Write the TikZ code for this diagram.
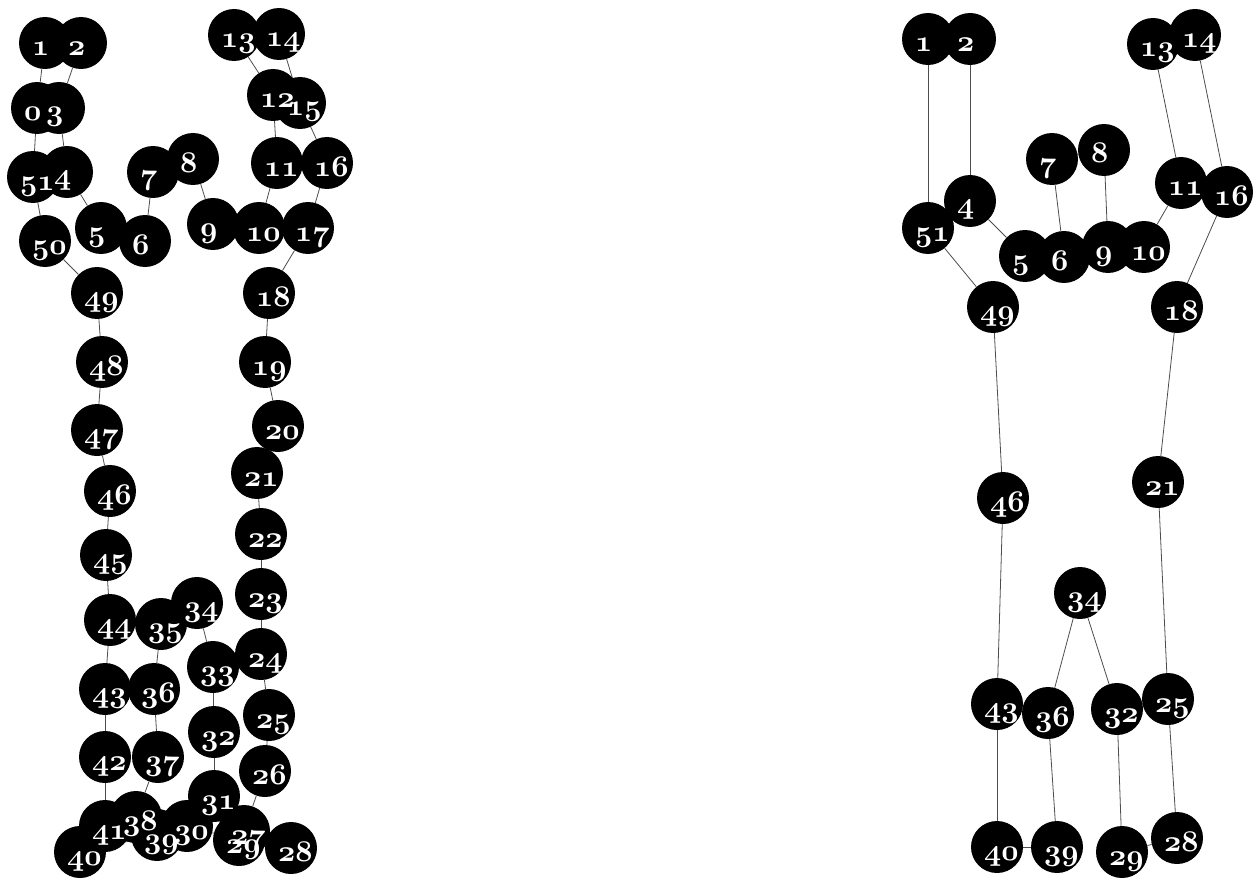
\RequirePackage{fix-cm}
\documentclass[tikz,border=0pt]{standalone}
\usepackage{tikz}
\definecolor{edgegray}{HTML}{4D4D4D}
\pgfdeclarelayer{edges}
\pgfdeclarelayer{labels}
\pgfsetlayers{edges,main,labels}
\newcommand{\vlabel}[1]{\makebox[26pt][l]{#1}}
\tikzset{vtx/.style={circle,fill=black,inner sep=0pt,minimum size=52pt},
  vtxtext/.style={inner sep=0pt,text=white,text height=26pt,text depth=0pt,
  font=\fontencoding{OML}\fontfamily{cmm}\fontseries{b}\fontshape{it}\fontsize{30}{32}\selectfont},
  link/.style={edgegray,line width=0.8pt}}

\begin{document}
\begin{tikzpicture}[x=1pt,y=-1pt]
\useasboundingbox (0,0) rectangle (1259,888);
% full contour
\foreach \n/\x/\y in {0/37/108,1/45/43,2/81/43,3/59/108,4/67/172,5/101/228,6/145/241,
  7/153/172,8/193/159,9/213/224,10/259/228,11/277/163,12/273/95,13/234/35,14/279/34,
  15/300/103,16/327/163,17/308/228,18/269/293,19/265/362,20/278/426,21/257/473,
  22/261/534,23/261/594,24/261/654,25/269/715,26/265/771,27/244/831,28/291/848,
  29/239/840,30/187/826,31/214/796,32/214/732,33/213/667,34/197/603,35/161/624,
  36/154/689,37/158/757,38/136/817,39/157/835,40/80/852,41/105/826,42/105/757,
  43/105/689,44/110/620,45/106/555,46/110/491,47/97/430,48/102/362,49/97/293,
  50/45/241,51/33/177}
{
  \node[vtx] (a\n) at (\x,\y) {};
  \begin{pgfonlayer}{labels}
  \node[vtxtext] (ta\n) at (a\n) {\vlabel{\n}};
  \end{pgfonlayer}
}
\begin{pgfonlayer}{edges}
\foreach \i [evaluate=\i as \j using {int(mod(\i+1,52))}] in {0,...,51}
  \draw[link] (a\i) -- (a\j);
\end{pgfonlayer}
% reduced contour
\foreach \n/\x/\y in {1/928/39,2/970/39,4/970/201,5/1025/256,6/1064/257,7/1052/159,
  8/1104/150,9/1108/247,10/1144/247,11/1181/183,13/1153/44,14/1195/35,16/1227/192,
  18/1177/307,21/1158/482,25/1168/699,28/1177/838,29/1122/852,32/1117/709,
  34/1080/593,36/1048/713,39/1057/847,40/997/847,43/997/704,46/1003/498,
  49/993/307,51/928/228}
{
  \node[vtx] (b\n) at (\x,\y) {};
  \begin{pgfonlayer}{labels}
  \node[vtxtext] (tb\n) at (b\n) {\vlabel{\n}};
  \end{pgfonlayer}
}
\begin{pgfonlayer}{edges}
\foreach \v [remember=\v as \u (initially 51)] in {1,2,4,5,6,7,8,9,10,11,13,14,16,18,
  21,25,28,29,32,34,36,39,40,43,46,49,51}
  \draw[link] (b\u) -- (b\v);
\end{pgfonlayer}
\end{tikzpicture}
\end{document}
